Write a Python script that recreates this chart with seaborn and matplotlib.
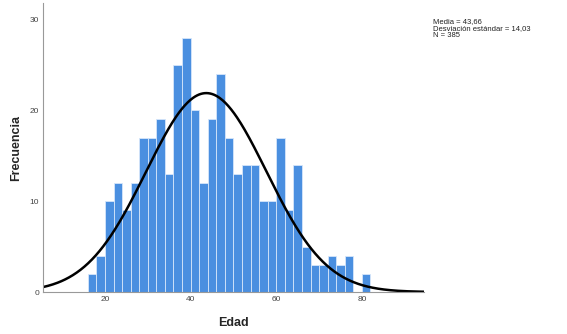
import numpy as np
import pandas as pd
import matplotlib
matplotlib.use("Agg")
import matplotlib.pyplot as plt
import seaborn as sns

# ---- data (2-year bins, Edad) ----
bin_starts = [16, 18, 20, 22, 24, 26, 28, 30, 32, 34, 36, 38, 40, 42, 44, 46, 48,
              50, 52, 54, 56, 58, 60, 62, 64, 66, 68, 70, 72, 74, 76, 78, 80]
counts = [2, 4, 10, 12, 9, 12, 17, 17, 19, 13, 25, 28, 20, 12, 19, 24, 17,
          13, 14, 14, 10, 10, 17, 9, 14, 5, 3, 3, 4, 3, 4, 0, 2]
media = 43.66
desv = 14.03
n_total = 385
bin_width = 2

df = pd.DataFrame({"Edad": np.array(bin_starts) + bin_width / 2, "n": counts})

sns.set_style("white")
plt.rcParams["font.family"] = ["Liberation Sans", "DejaVu Sans"]

fig = plt.figure(figsize=(5.67, 3.34), dpi=100)
ax = fig.add_axes([0.0764, 0.1257, 0.6714, 0.865])

sns.histplot(data=df, x="Edad", weights="n", binwidth=bin_width,
             binrange=(bin_starts[0], bin_starts[-1] + bin_width), ax=ax,
             color="#4a8fe0", alpha=1, edgecolor="#d6e6fa", linewidth=0.6)

# normal curve scaled to counts
xs = np.linspace(5.6, 94.5, 400)
ys = n_total * bin_width / (desv * np.sqrt(2 * np.pi)) * np.exp(-0.5 * ((xs - media) / desv) ** 2)
sns.lineplot(x=xs, y=ys, ax=ax, color="black", linewidth=1.8)

ax.set_xlim(5.6, 94.5)
ax.set_ylim(0, 31.8)
ax.set_xticks([20, 40, 60, 80])
ax.set_yticks([0, 10, 20, 30])
ax.tick_params(axis="both", length=0, labelsize=6, colors="#444444", pad=3)
for s in ["top", "right"]:
    ax.spines[s].set_visible(False)
for s in ["left", "bottom"]:
    ax.spines[s].set_color("#999999")
    ax.spines[s].set_linewidth(0.8)

ax.set_xlabel("Edad", fontsize=9, fontweight="bold")
ax.set_ylabel("Frecuencia", fontsize=9, fontweight="bold")
ax.yaxis.set_label_coords(-0.055, 0.5)
ax.xaxis.set_label_coords(0.5, -0.085)

fig.text(0.763, 0.945, f"Media = {media:.2f}".replace(".", ",") +
         f"\nDesviación estándar = {desv:.2f}".replace(".", ",") +
         f"\nN = {n_total}", fontsize=5.5, va="top", ha="left",
         linespacing=1.0, color="#222222")

fig.savefig("out.png", dpi=100)
